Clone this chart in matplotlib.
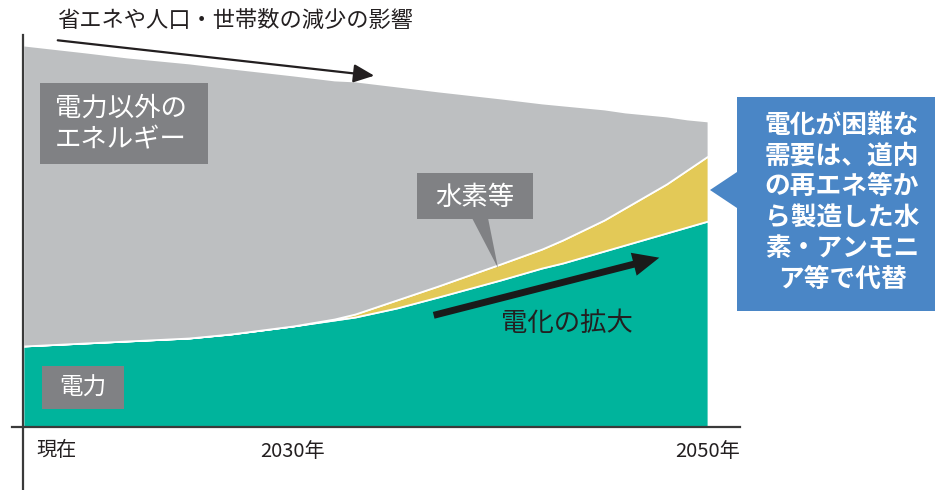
import matplotlib
matplotlib.use("Agg")
import matplotlib.pyplot as plt
from matplotlib.patches import Polygon, Rectangle, FancyArrowPatch

plt.rcParams['font.family'] = ['Noto Sans CJK JP', 'DejaVu Sans']

# ---------------- data (arbitrary units) ----------------
years = [2017, 2020, 2022, 2025, 2027, 2030, 2032, 2033, 2035, 2037, 2040, 2042,
         2043, 2044, 2045, 2046, 2047, 2048, 2049, 2050]
electricity = [81, 84, 86, 89, 93, 101, 107, 110, 119, 130, 147, 159,
               164, 170, 176, 182, 188, 194, 200, 206]
hydrogen = [0, 0, 0, 0, 0, 0, 1, 3, 8, 11, 16, 19,
            23, 27, 31, 37, 43, 49, 57, 65]
other_energy = [301, 291, 284, 275, 266, 251, 239, 233, 214, 195, 166, 146,
                135, 123, 111, 96, 82, 68, 51, 35]

series_names = ["電力", "水素等", "電力以外のエネルギー"]
tick_years = [2030, 2050]
tick_labels = ["2030年", "2050年"]
start_label = "現在"

title_text = "省エネや人口・世帯数の減少の影響"
growth_text = "電化の拡大"
callout_text = "電化が困難な\n需要は、道内\nの再エネ等か\nら製造した水\n素・アンモニ\nア等で代替"

# ---------------- colours ----------------
c_green = "#00B49C"
c_yellow = "#E3C957"
c_gray = "#BDBFC1"
c_label = "#808184"
c_blue = "#4A86C6"
c_text = "#231F20"

W, H = 936, 490
fig = plt.figure(figsize=(W / 100, H / 100), dpi=100)


def px(x, y):
    # pixel position (from top-left) -> figure fraction
    return (x / W, 1 - y / H)


# axes: bottom line from x=12 to 740 at y=427, data from x=23 (2017) to x=708 (2050)
ppy = (708 - 23) / (2050 - 2017)
x0 = 2017 - (23 - 12) / ppy
x1 = 2050 + (740 - 708) / ppy
ax = fig.add_axes([12 / W, (H - 427) / H, (740 - 12) / W, (427 - 35) / H])
ax.set_xlim(x0, x1)
ax.set_ylim(0, 392)

ax.stackplot(years, electricity, hydrogen, other_energy,
             colors=[c_green, c_yellow, c_gray], labels=series_names,
             edgecolor="white", linewidth=1.3)

for s in ["top", "right", "left"]:
    ax.spines[s].set_visible(False)
ax.spines["bottom"].set_color("#3a3a3a")
ax.spines["bottom"].set_linewidth(1.6)
ax.spines["bottom"].set_zorder(5)
# left axis line runs past the bottom line
ax.plot([2017, 2017], [-63, 392], color="#3a3a3a", lw=1.6, clip_on=False, zorder=6)

ax.set_yticks([])
ax.set_xticks(tick_years)
ax.set_xticklabels(tick_labels, fontsize=14.5, color=c_text)
ax.tick_params(axis="x", length=0, pad=10)
ax.text(2017 + (36 - 23) / ppy, -23, start_label, fontsize=14.5, color=c_text,
        ha="left", va="center")

# ---------------- annotations ----------------
fig.text(*px(57, 20), title_text, fontsize=16, color=c_text, ha="left", va="center")
fig.add_artist(FancyArrowPatch(px(55, 40), px(377, 76), transform=fig.transFigure,
                               arrowstyle="-|>,head_length=0.9,head_width=0.4",
                               mutation_scale=14, lw=1.6, color=c_text))

# 電力以外のエネルギー
fig.add_artist(Rectangle(px(40, 164), (208 - 40) / W, (164 - 83) / H,
                         transform=fig.transFigure, fc=c_label, ec="none"))
fig.text(*px(55, 124), "電力以外の\nエネルギー", fontsize=19, color="white",
         ha="left", va="center", linespacing=1.25)

# 水素等
fig.add_artist(Rectangle(px(417, 219), (533 - 417) / W, (219 - 173) / H,
                         transform=fig.transFigure, fc=c_label, ec="none"))
fig.add_artist(Polygon([px(472, 218), px(488, 218), px(498, 268)],
                       closed=True, transform=fig.transFigure, fc=c_label, ec="none"))
fig.text(*px(475, 197), "水素等", fontsize=19, color="white", ha="center", va="center")

# 電力
fig.add_artist(Rectangle(px(42, 409), (124 - 42) / W, (409 - 366) / H,
                         transform=fig.transFigure, fc=c_label, ec="none"))
fig.text(*px(83, 388), "電力", fontsize=17, color="white", ha="center", va="center")

# 電化の拡大
fig.add_artist(FancyArrowPatch(px(431, 316), px(662, 257), transform=fig.transFigure,
                               arrowstyle="simple,head_width=17,head_length=19,tail_width=5",
                               mutation_scale=1, lw=0, color="#1a1a1a"))
fig.text(*px(567, 323), growth_text, fontsize=19, color=c_text, ha="center", va="center")

# blue callout
fig.add_artist(Polygon([px(737, 97), px(935, 97), px(935, 311), px(737, 311),
                        px(737, 208), px(710, 190), px(737, 172)],
                       closed=True, transform=fig.transFigure, fc=c_blue, ec="none"))
fig.text(*px(842, 202), callout_text, fontsize=18.5, color="white", fontweight="bold",
         ha="center", va="center", multialignment="center", linespacing=1.18)

fig.savefig("out.png", dpi=100)
